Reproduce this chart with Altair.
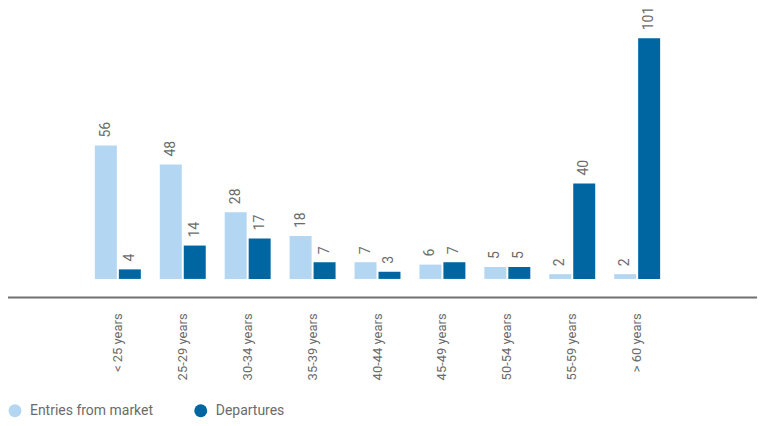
import altair as alt
import pandas as pd

AGE_GROUPS = [
    "< 25 years", "25-29 years", "30-34 years", "35-39 years", "40-44 years",
    "45-49 years", "50-54 years", "55-59 years", "> 60 years",
]
ENTRIES = [56, 48, 28, 18, 7, 6, 5, 2, 2]
DEPARTURES = [4, 14, 17, 7, 3, 7, 5, 40, 101]
SERIES = ["Entries from market", "Departures"]
COLORS = ["#b3d6f2", "#0066a2"]
TEXT = "#6b6b6b"
FONT = "Roboto"

df = pd.DataFrame(
    [{"Age": a, "Series": SERIES[0], "Value": v} for a, v in zip(AGE_GROUPS, ENTRIES)]
    + [{"Age": a, "Series": SERIES[1], "Value": v} for a, v in zip(AGE_GROUPS, DEPARTURES)]
)

W, H = 585, 241

x = alt.X(
    "Age:N",
    sort=AGE_GROUPS,
    title=None,
    scale=alt.Scale(paddingInner=0.292, paddingOuter=0.146),
    axis=alt.Axis(
        domain=False, ticks=False, labelAngle=270, labelAlign="right",
        labelBaseline="middle", labelPadding=34, labelFontSize=13,
        labelColor=TEXT, labelFont=FONT,
    ),
)
x_off = alt.XOffset("Series:N", sort=SERIES, scale=alt.Scale(paddingInner=0.083, paddingOuter=0))
y = alt.Y("Value:Q", scale=alt.Scale(domain=[0, 101], nice=False), axis=None)

base = alt.Chart(df)

bars = base.mark_bar().encode(
    x=x,
    xOffset=x_off,
    y=y,
    color=alt.Color(
        "Series:N",
        sort=SERIES,
        scale=alt.Scale(domain=SERIES, range=COLORS),
        legend=alt.Legend(
            title=None, orient="none", direction="horizontal",
            legendX=-77.5, legendY=366, symbolType="circle", symbolSize=169,
            symbolStrokeWidth=0, labelFontSize=14, labelColor=TEXT, labelFont=FONT,
            labelOffset=8, columnPadding=40, padding=0,
        ),
    ),
)

labels = base.mark_text(
    angle=270, align="left", baseline="middle", dx=8, fontSize=14, color=TEXT, font=FONT
).encode(x=x, xOffset=x_off, y=y, text="Value:Q")

axis_line = alt.Chart(pd.DataFrame({"v": [0]})).mark_rule(color="#707070", strokeWidth=2).encode(
    x=alt.value(-80), x2=alt.value(W + 90), y=alt.value(259.5)
)

chart = (
    alt.layer(bars, labels, axis_line)
    .properties(
        width=W, height=H,
        autosize=alt.AutoSizeParams(type="none"),
        padding={"left": 77.5, "right": 87.5, "top": 30, "bottom": 139},
    )
    .configure(background="white")
    .configure_view(stroke=None, strokeWidth=0)
)

chart.save("out.html", embed_options={"renderer": "svg", "actions": False})
